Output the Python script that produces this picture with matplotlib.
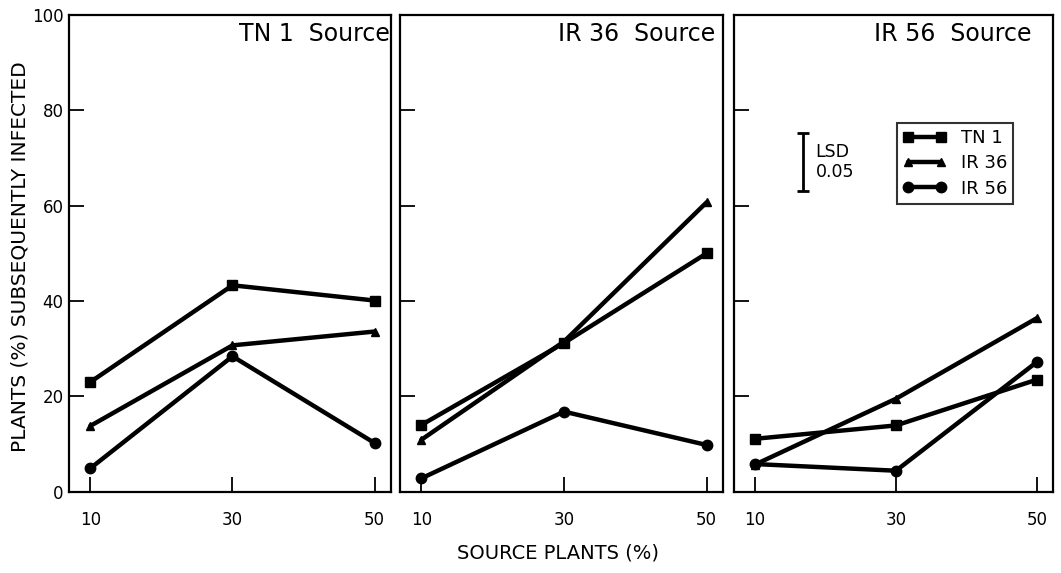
import matplotlib.pyplot as plt

# source plants (%) on the x axis
source_pct = [10, 30, 50]
xtick_labels = ["10", "30", "50"]
yticks = [0, 20, 40, 60, 80, 100]

panel_titles = ["TN 1  Source", "IR 36  Source", "IR 56  Source"]
varieties = ["TN 1", "IR 36", "IR 56"]

# plants subsequently infected (%), one list per test variety, per source panel
tn1_source = {
    "TN 1": [23, 43.3, 40.1],
    "IR 36": [13.8, 30.7, 33.6],
    "IR 56": [4.9, 28.4, 10.2],
}
ir36_source = {
    "TN 1": [14.0, 31.2, 50.0],
    "IR 36": [10.9, 31.5, 60.7],
    "IR 56": [2.8, 16.8, 9.8],
}
ir56_source = {
    "TN 1": [11.1, 13.9, 23.5],
    "IR 36": [5.7, 19.5, 36.4],
    "IR 56": [5.8, 4.4, 27.2],
}
panels = [tn1_source, ir36_source, ir56_source]

lsd_value = 12.2   # length of the LSD 0.05 bar
lsd_bottom = 63.0

markers = {"TN 1": "s", "IR 36": "^", "IR 56": "o"}
msize = {"TN 1": 7, "IR 36": 5.5, "IR 56": 7.5}

fig = plt.figure(figsize=(10.61, 5.73), dpi=100)

# panel boxes in pixels: left, right
boxes = [(69, 391), (400, 723), (734, 1053)]
title_x = [0.995, 0.975, 0.934]
W, H = 1061, 573
bottom_px, top_px = 491.7, 15

axes = []
for i, (l, r) in enumerate(boxes):
    ax = fig.add_axes([l / W, 1 - bottom_px / H, (r - l) / W, (bottom_px - top_px) / H])
    axes.append(ax)
    data = panels[i]
    for v in varieties:
        ax.plot(source_pct, data[v], color="black", linewidth=3.2,
                marker=markers[v], markersize=msize[v], label=v,
                solid_capstyle="round")
    ax.set_xlim(7.0, 52.3)
    ax.set_ylim(0, 100)
    ax.set_xticks(source_pct)
    ax.set_xticklabels(xtick_labels)
    ax.set_yticks(yticks)
    ax.tick_params(direction="in", length=11, width=1.3, labelsize=12,
                   top=False, right=False, pad=14)
    ax.tick_params(axis="y", pad=4)
    if i > 0:
        ax.set_yticklabels([])
    for sp in ax.spines.values():
        sp.set_linewidth(1.6)
    ax.text(title_x[i], 0.985, panel_titles[i], transform=ax.transAxes,
            ha="right", va="top", fontsize=17)

# LSD bar and legend in the third panel
ax3 = axes[2]
ax3.errorbar([16.8], [lsd_bottom + lsd_value / 2], yerr=[lsd_value / 2],
             color="black", capsize=4, elinewidth=2, capthick=2, fmt="none")
ax3.text(18.6, lsd_bottom + lsd_value / 2, "LSD\n0.05", ha="left", va="center",
         fontsize=12.5, linespacing=1.15)
leg = ax3.legend(loc="upper right", bbox_to_anchor=(0.875, 0.773), numpoints=2,
                 frameon=True, fancybox=False, fontsize=13, handlelength=2.4,
                 handletextpad=0.8, borderpad=0.33, labelspacing=0.4,
                 edgecolor="black", borderaxespad=0)
leg.get_frame().set_linewidth(1.5)

fig.text(20 / W, 1 - 257 / H, "PLANTS (%) SUBSEQUENTLY INFECTED", rotation=90,
         ha="center", va="center", fontsize=14.5)
fig.text(558 / W, 1 - 553 / H, "SOURCE PLANTS (%)", ha="center", va="center",
         fontsize=14)

fig.savefig("out.png", dpi=100)
